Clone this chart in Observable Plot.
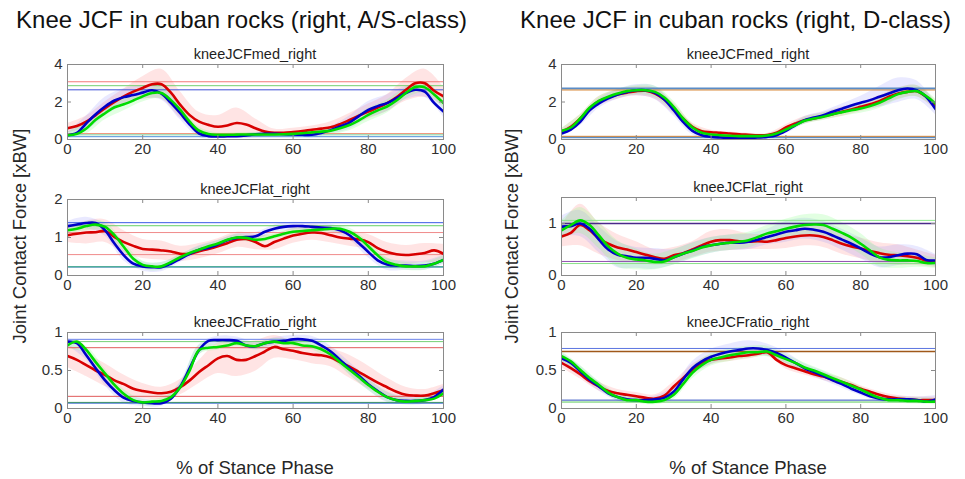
<!DOCTYPE html>
<html>
<head>
<meta charset="utf-8">
<script src="https://cdn.jsdelivr.net/npm/d3@7"></script>
<script src="https://cdn.jsdelivr.net/npm/@observablehq/plot@0.6"></script>
<style>
  body { margin: 0; background: #fff; }
  #chart { position: relative; width: 965px; height: 479px; overflow: hidden;
           font-family: "Liberation Sans", Arial, Helvetica, sans-serif; color: #262626; }
  .txt { position: absolute; white-space: nowrap; line-height: 1; }
  .panel { position: absolute; }
</style>
</head>
<body>
<div id="chart"></div>
<script>
// Stance phase knots (%) for the mean curves and for the ±SD bands
const phase = d3.range(0, 100.001, 2.5);
const bandPhase = d3.range(0, 100.001, 5);
const xTicks = [0, 20, 40, 60, 80, 100];

// ---- A/S-class: medial compartment [xBW]
const medAS_r = [0.6,0.72,0.95,1.3,1.67,2.0,2.3,2.55,2.75,2.95,2.95,2.5,1.85,1.3,0.95,0.78,0.68,0.75,0.88,0.8,0.6,0.42,0.36,0.36,0.4,0.45,0.52,0.58,0.65,0.82,1.04,1.27,1.49,1.7,1.94,2.25,2.65,3.0,3.0,2.6,2.3];
const medAS_b = [0.23,0.35,0.86,1.35,1.76,2.08,2.26,2.37,2.5,2.63,2.45,1.95,1.4,0.8,0.32,0.18,0.16,0.17,0.18,0.22,0.28,0.3,0.3,0.28,0.27,0.25,0.25,0.35,0.5,0.7,0.9,1.25,1.58,1.78,1.94,2.2,2.48,2.65,2.55,1.95,1.49];
const medAS_g = [0.23,0.3,0.59,1.05,1.4,1.72,1.88,2.08,2.3,2.48,2.48,2.1,1.58,0.95,0.47,0.29,0.25,0.25,0.26,0.27,0.27,0.27,0.27,0.28,0.3,0.33,0.38,0.42,0.47,0.6,0.77,1.02,1.31,1.55,1.76,2.08,2.48,2.8,2.78,2.4,1.94];
const medAS_sd_r = [0.25,0.3,0.35,0.4,0.6,0.8,0.7,0.5,0.6,0.8,0.5,0.2,0.2,0.2,0.3,0.35,0.4,0.45,0.6,0.75,0.5];
const medAS_sd_b = [0.15,0.4,0.5,0.45,0.35,0.35,0.35,0.2,0.1,0.1,0.1,0.1,0.1,0.15,0.2,0.35,0.45,0.45,0.35,0.3,0.3];
const medAS_sd_g = [0.15,0.3,0.35,0.35,0.3,0.3,0.3,0.2,0.1,0.1,0.1,0.1,0.1,0.12,0.2,0.3,0.35,0.35,0.3,0.3,0.3];
const medAS_ref = [3.08, 2.87, 2.65, 0.32, 0.25, 0.15];

// ---- A/S-class: lateral compartment [xBW]
const latAS_r = [1.06,1.1,1.13,1.14,1.17,1.01,0.88,0.78,0.7,0.68,0.66,0.63,0.57,0.57,0.64,0.7,0.77,0.85,0.94,0.96,0.88,0.77,0.88,0.97,1.05,1.1,1.13,1.12,1.06,1.0,0.97,0.95,0.88,0.72,0.62,0.56,0.54,0.56,0.59,0.66,0.57];
const latAS_b = [1.3,1.34,1.38,1.38,1.19,0.84,0.53,0.31,0.24,0.22,0.22,0.31,0.44,0.57,0.68,0.73,0.82,0.93,0.99,1.01,1.03,1.15,1.23,1.28,1.3,1.3,1.28,1.26,1.25,1.19,1.06,0.85,0.62,0.4,0.29,0.26,0.26,0.25,0.26,0.31,0.41];
const latAS_g = [1.19,1.23,1.3,1.34,1.28,1.06,0.75,0.44,0.28,0.24,0.24,0.35,0.48,0.59,0.68,0.77,0.84,0.94,1.0,0.99,0.94,0.96,1.03,1.1,1.15,1.17,1.19,1.21,1.23,1.23,1.15,1.0,0.77,0.53,0.35,0.28,0.24,0.24,0.24,0.31,0.41];
const latAS_sd_r = [0.2,0.3,0.3,0.3,0.25,0.25,0.2,0.2,0.2,0.2,0.2,0.2,0.2,0.2,0.2,0.2,0.2,0.25,0.25,0.25,0.25];
const latAS_sd_b = [0.12,0.15,0.15,0.15,0.12,0.12,0.1,0.1,0.1,0.1,0.1,0.1,0.1,0.1,0.1,0.12,0.15,0.15,0.12,0.12,0.12];
const latAS_sd_g = [0.1,0.12,0.12,0.12,0.1,0.1,0.08,0.08,0.08,0.08,0.08,0.08,0.08,0.08,0.08,0.1,0.12,0.12,0.1,0.1,0.1];
const latAS_ref = [1.39, 1.31, 1.13, 0.55, 0.235, 0.22];

// ---- A/S-class: medial/total ratio
const ratioAS_r = [0.69,0.64,0.57,0.5,0.44,0.37,0.32,0.26,0.23,0.21,0.2,0.22,0.28,0.37,0.48,0.57,0.66,0.69,0.64,0.64,0.69,0.75,0.81,0.78,0.76,0.73,0.71,0.7,0.67,0.61,0.55,0.48,0.41,0.34,0.28,0.22,0.18,0.17,0.17,0.2,0.24];
const ratioAS_b = [0.88,0.86,0.7,0.53,0.37,0.24,0.14,0.1,0.08,0.07,0.07,0.13,0.29,0.53,0.77,0.89,0.9,0.9,0.89,0.83,0.82,0.86,0.88,0.89,0.91,0.91,0.89,0.83,0.75,0.64,0.53,0.43,0.32,0.23,0.15,0.11,0.1,0.1,0.11,0.15,0.25];
const ratioAS_g = [0.83,0.88,0.77,0.61,0.46,0.31,0.19,0.11,0.08,0.09,0.1,0.15,0.28,0.5,0.77,0.8,0.81,0.83,0.86,0.83,0.82,0.86,0.88,0.86,0.86,0.83,0.82,0.78,0.71,0.61,0.51,0.41,0.31,0.22,0.15,0.11,0.09,0.1,0.11,0.13,0.2];
const ratioAS_sd_r = [0.15,0.15,0.15,0.12,0.1,0.08,0.1,0.15,0.2,0.22,0.2,0.15,0.12,0.12,0.12,0.15,0.15,0.12,0.1,0.08,0.08];
const ratioAS_sd_b = [0.05,0.06,0.07,0.07,0.05,0.04,0.06,0.07,0.05,0.05,0.05,0.05,0.05,0.06,0.07,0.08,0.08,0.07,0.05,0.05,0.05];
const ratioAS_sd_g = [0.04,0.05,0.06,0.06,0.04,0.04,0.05,0.06,0.04,0.04,0.04,0.04,0.04,0.05,0.06,0.07,0.07,0.06,0.04,0.04,0.04];
const ratioAS_ref = [0.91, 0.88, 0.8, 0.16, 0.08, 0.07];

// ---- D-class: medial compartment [xBW]
const medD_r = [0.41,0.68,1.12,1.65,2.04,2.24,2.4,2.5,2.58,2.6,2.45,2.13,1.65,1.12,0.68,0.44,0.39,0.36,0.32,0.28,0.25,0.22,0.24,0.36,0.64,0.85,1.03,1.12,1.24,1.35,1.48,1.6,1.74,1.88,2.04,2.28,2.45,2.54,2.58,2.28,1.83];
const medD_b = [0.32,0.53,0.94,1.56,1.92,2.19,2.4,2.54,2.63,2.63,2.49,2.13,1.56,0.94,0.46,0.23,0.14,0.11,0.09,0.09,0.09,0.11,0.14,0.23,0.46,0.76,1.03,1.17,1.3,1.48,1.64,1.81,1.96,2.1,2.28,2.45,2.63,2.72,2.63,2.28,1.62];
const medD_g = [0.46,0.64,1.12,1.69,2.06,2.28,2.45,2.58,2.63,2.63,2.54,2.24,1.74,1.12,0.64,0.36,0.27,0.23,0.2,0.18,0.18,0.18,0.21,0.32,0.53,0.76,1.0,1.12,1.21,1.35,1.46,1.56,1.65,1.78,1.96,2.19,2.42,2.54,2.58,2.31,1.92];
const medD_sd_r = [0.15,0.2,0.25,0.25,0.25,0.3,0.3,0.2,0.1,0.08,0.08,0.08,0.15,0.2,0.2,0.25,0.25,0.3,0.3,0.3,0.25];
const medD_sd_b = [0.15,0.2,0.25,0.25,0.3,0.35,0.3,0.2,0.1,0.08,0.08,0.08,0.15,0.2,0.2,0.25,0.35,0.55,0.65,0.5,0.3];
const medD_sd_g = [0.12,0.2,0.22,0.22,0.25,0.3,0.3,0.2,0.1,0.08,0.08,0.08,0.12,0.18,0.2,0.22,0.25,0.3,0.3,0.3,0.25];
const medD_ref = [2.72, 2.64, 0.12, 0.17];

// ---- D-class: lateral compartment [xBW]
const latD_r = [0.75,0.82,0.97,0.87,0.71,0.61,0.54,0.5,0.45,0.4,0.35,0.32,0.39,0.43,0.5,0.58,0.65,0.68,0.68,0.66,0.65,0.66,0.65,0.68,0.72,0.75,0.77,0.77,0.74,0.68,0.61,0.56,0.52,0.47,0.43,0.4,0.39,0.37,0.34,0.29,0.27];
const latD_b = [0.94,0.95,1.0,0.9,0.69,0.5,0.4,0.37,0.34,0.34,0.32,0.29,0.35,0.42,0.48,0.55,0.58,0.61,0.63,0.63,0.65,0.69,0.74,0.79,0.84,0.87,0.9,0.88,0.84,0.77,0.69,0.61,0.52,0.42,0.35,0.35,0.39,0.42,0.41,0.3,0.29];
const latD_g = [0.87,0.97,1.06,0.97,0.77,0.56,0.42,0.34,0.31,0.29,0.26,0.27,0.35,0.42,0.47,0.54,0.58,0.61,0.63,0.65,0.68,0.74,0.81,0.85,0.9,0.94,0.97,0.98,0.97,0.9,0.82,0.73,0.61,0.48,0.35,0.3,0.29,0.29,0.28,0.24,0.24];
const latD_sd_r = [0.2,0.4,0.3,0.25,0.2,0.15,0.15,0.15,0.2,0.2,0.15,0.15,0.2,0.2,0.2,0.2,0.2,0.2,0.2,0.15,0.12];
const latD_sd_b = [0.2,0.25,0.25,0.25,0.2,0.2,0.15,0.15,0.15,0.15,0.15,0.15,0.2,0.2,0.2,0.2,0.2,0.2,0.2,0.15,0.12];
const latD_sd_g = [0.18,0.25,0.25,0.25,0.2,0.15,0.15,0.15,0.15,0.15,0.15,0.15,0.18,0.2,0.2,0.2,0.2,0.18,0.15,0.12,0.1];
const latD_ref = [1.06, 1.0, 0.27, 0.23];

// ---- D-class: medial/total ratio
const ratioD_r = [0.6,0.53,0.45,0.36,0.29,0.23,0.2,0.18,0.16,0.14,0.13,0.17,0.29,0.4,0.51,0.6,0.64,0.66,0.67,0.69,0.7,0.72,0.74,0.64,0.57,0.53,0.49,0.45,0.42,0.38,0.35,0.31,0.26,0.22,0.18,0.15,0.13,0.12,0.11,0.11,0.11];
const ratioD_b = [0.66,0.6,0.49,0.38,0.29,0.2,0.15,0.12,0.11,0.11,0.12,0.14,0.22,0.38,0.53,0.62,0.68,0.72,0.75,0.77,0.79,0.79,0.77,0.73,0.67,0.6,0.53,0.48,0.43,0.37,0.32,0.26,0.21,0.16,0.13,0.12,0.12,0.12,0.11,0.09,0.12];
const ratioD_g = [0.69,0.62,0.51,0.4,0.31,0.21,0.15,0.11,0.11,0.09,0.09,0.11,0.18,0.32,0.47,0.57,0.64,0.67,0.7,0.72,0.74,0.74,0.75,0.7,0.65,0.6,0.54,0.5,0.45,0.4,0.35,0.3,0.25,0.19,0.14,0.11,0.11,0.1,0.1,0.09,0.09];
const ratioD_sd_r = [0.06,0.06,0.06,0.05,0.05,0.05,0.06,0.07,0.06,0.05,0.05,0.05,0.05,0.05,0.05,0.05,0.04,0.04,0.04,0.04,0.04];
const ratioD_sd_b = [0.07,0.07,0.06,0.05,0.04,0.04,0.07,0.09,0.1,0.1,0.1,0.08,0.07,0.06,0.06,0.05,0.04,0.04,0.04,0.04,0.05];
const ratioD_sd_g = [0.06,0.06,0.05,0.05,0.04,0.04,0.06,0.08,0.08,0.08,0.08,0.07,0.06,0.06,0.05,0.05,0.04,0.04,0.04,0.04,0.04];
const ratioD_ref = [0.79, 0.75, 0.11, 0.085];

// Text
const panelTitles = ["Knee JCF in cuban rocks (right, A/S-class)", "Knee JCF in cuban rocks (right, D-class)"];
const subTitles = ["kneeJCFmed_right", "kneeJCFlat_right", "kneeJCFratio_right"];
const yLabel = "Joint Contact Force [xBW]";
const xLabel = "% of Stance Phase";

// ---- styling
const groups = ["r", "b", "g"];
const lineColor = {r: "#d80000", b: "#0000c8", g: "#00dc00"};
const bandColor = {r: "#ff7a7a", b: "#7a7aff", g: "#7aff7a"};
const bandOpacity = {r: 0.2, b: 0.17, g: 0.22};
const axisGray = "#8a8a8a";
const font = '"Liberation Sans", Arial, Helvetica, sans-serif';

const panels = [
  {x0: 67, x1: 443, y0: 64, y1: 139, domain: [0, 4], yTicks: [0, 2, 4], title: subTitles[0],
   series: [medAS_r, medAS_b, medAS_g], sds: [medAS_sd_r, medAS_sd_b, medAS_sd_g],
   refs: medAS_ref, refColors: ["#f27a7a", "#72d072", "#3f52d6", "#f09a80", "#80d0a0", "#4f8fd8"], refWidths: [1,1,1,1,1,1]},
  {x0: 67, x1: 443, y0: 199, y1: 275, domain: [0, 2], yTicks: [0, 1, 2], title: subTitles[1],
   series: [latAS_r, latAS_b, latAS_g], sds: [latAS_sd_r, latAS_sd_b, latAS_sd_g],
   refs: latAS_ref, refColors: ["#3a5ae6", "#66d066", "#f08a8a", "#f08a8a", "#55c08a", "#3a88a8"], refWidths: [1,1,1,1,1,1]},
  {x0: 67, x1: 443, y0: 332, y1: 408, domain: [0, 1], yTicks: [0, 0.5, 1], title: subTitles[2],
   series: [ratioAS_r, ratioAS_b, ratioAS_g], sds: [ratioAS_sd_r, ratioAS_sd_b, ratioAS_sd_g],
   refs: ratioAS_ref, refColors: ["#6c84ea", "#74d074", "#e05a5a", "#e05a5a", "#3aa23a", "#3a6ad0"], refWidths: [1,1,1,1,1,1]},
  {x0: 561, x1: 935, y0: 64, y1: 139, domain: [0, 4], yTicks: [0, 2, 4], title: subTitles[0],
   series: [medD_r, medD_b, medD_g], sds: [medD_sd_r, medD_sd_b, medD_sd_g],
   refs: medD_ref, refColors: ["#5a8cc6", "#d98a3a", "#5a8cc6", "#d98a3a"], refWidths: [2,1,2,1]},
  {x0: 561, x1: 935, y0: 197, y1: 275, domain: [0, 1.5], yTicks: [0, 1], title: subTitles[1],
   series: [latD_r, latD_b, latD_g], sds: [latD_sd_r, latD_sd_b, latD_sd_g],
   refs: latD_ref, refColors: ["#8ae88a", "#4a2a8a", "#9050b0", "#8ae08a"], refWidths: [1,1.3,1,1]},
  {x0: 561, x1: 935, y0: 332, y1: 408, domain: [0, 1], yTicks: [0, 0.5, 1], title: subTitles[2],
   series: [ratioD_r, ratioD_b, ratioD_g], sds: [ratioD_sd_r, ratioD_sd_b, ratioD_sd_g],
   refs: ratioD_ref, refColors: ["#5a74e0", "#a0581a", "#3050c0", "#5ac85a"], refWidths: [1,1.3,1,1]}
];

const chart = document.getElementById("chart");

function addText(str, css) {
  const el = document.createElement("div");
  el.className = "txt";
  el.textContent = str;
  Object.assign(el.style, css);
  chart.appendChild(el);
  return el;
}

function drawPanel(p) {
  const W = p.x1 - p.x0, H = p.y1 - p.y0;
  const mL = 40, mR = 20, mT = 6, mB = 26;

  const lines = p.series.flatMap((vals, k) =>
    vals.map((v, i) => ({phase: phase[i], value: v, group: groups[k]})));
  const bands = p.sds.flatMap((sd, k) =>
    sd.map((s, j) => {
      const m = p.series[k][j * 2];
      return {phase: bandPhase[j], lo: m - s, hi: m + s, group: groups[k]};
    }));

  const svg = Plot.plot({
    width: W + mL + mR, height: H + mT + mB,
    marginLeft: mL, marginRight: mR, marginTop: mT, marginBottom: mB,
    x: {domain: [0, 100]},
    y: {domain: p.domain},
    style: {fontFamily: font, fontSize: "15px", color: "#303030", background: "transparent", overflow: "visible"},
    marks: [
      Plot.areaY(bands, {x: "phase", y1: "lo", y2: "hi", z: "group",
        fill: d => bandColor[d.group], fillOpacity: d => bandOpacity[d.group], curve: "catmull-rom", clip: true}),
      Plot.ruleY(p.refs, {y: d => d, stroke: (d, i) => p.refColors[i], strokeWidth: (d, i) => p.refWidths[i]}),
      Plot.line(lines, {x: "phase", y: "value", z: "group",
        stroke: d => lineColor[d.group], strokeWidth: 2.6, curve: "catmull-rom", clip: true}),
      Plot.frame({stroke: axisGray, strokeWidth: 1}),
      Plot.tickX(xTicks, {x: d => d, stroke: axisGray, insetTop: H - 4}),
      Plot.tickX(xTicks, {x: d => d, stroke: axisGray, insetBottom: H - 4}),
      Plot.tickY(p.yTicks, {y: d => d, stroke: axisGray, insetRight: W - 4}),
      Plot.tickY(p.yTicks, {y: d => d, stroke: axisGray, insetLeft: W - 4}),
      Plot.axisX(xTicks, {tickSize: 0, tickPadding: 4, label: null, tickFormat: d => String(d)}),
      Plot.axisY(p.yTicks, {tickSize: 0, tickPadding: 5, label: null, tickFormat: d => String(d)})
    ]
  });

  const wrap = document.createElement("div");
  wrap.className = "panel";
  wrap.style.left = (p.x0 - mL) + "px";
  wrap.style.top = (p.y0 - mT) + "px";
  wrap.appendChild(svg);
  chart.appendChild(wrap);

  // subplot title, centred over the axes
  const cx = (p.x0 + p.x1) / 2;
  addText(p.title, {left: cx + "px", top: (p.y0 - 17) + "px", fontSize: "14.5px",
    transform: "translateX(-50%)", color: "#1e1e1e"});
}

panels.forEach(drawPanel);

// Column titles, axis labels
const columns = [{x0: 67, x1: 443, titleX: 241.5, yLabelX: 20}, {x0: 561, x1: 935, titleX: 735.5, yLabelX: 512}];
columns.forEach((c, i) => {
  addText(panelTitles[i], {left: c.titleX + "px", top: "8px", fontSize: "24px",
    transform: "translateX(-50%)", color: "#111"});
  addText(yLabel, {left: c.yLabelX + "px", top: "236px", fontSize: "18.5px",
    transform: "translate(-50%,-50%) rotate(-90deg)", color: "#262626"});
  addText(xLabel, {left: ((c.x0 + c.x1) / 2) + "px", top: "459px", fontSize: "18.5px",
    transform: "translateX(-50%)", color: "#262626"});
});
</script>
</body>
</html>
